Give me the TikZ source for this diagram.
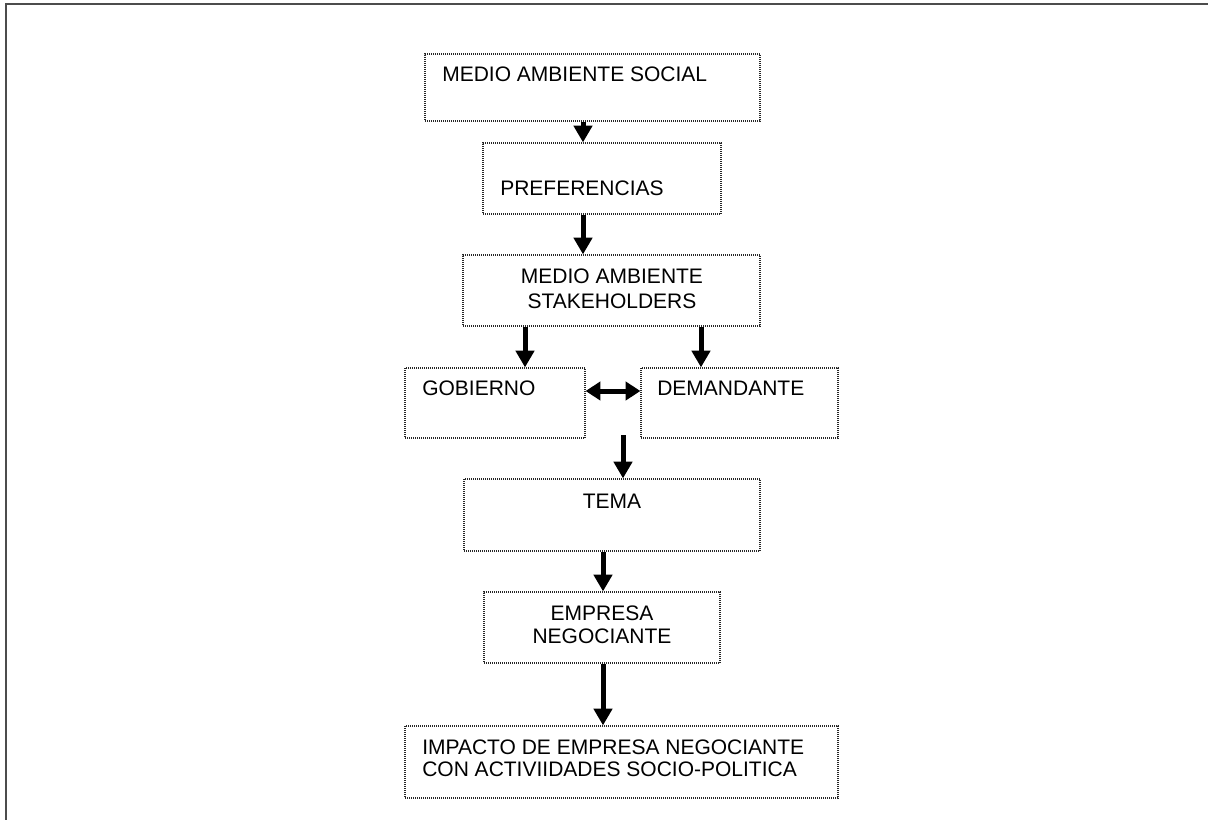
\documentclass[tikz,border=0pt]{standalone}
\usepackage{fontspec}
\setmainfont{Liberation Sans}
\usetikzlibrary{arrows.meta,fit}
\begin{document}
\begin{tikzpicture}[x=0.75pt,y=-0.75pt,
  box/.style={draw=black!85, line width=0.9pt, dash pattern=on 0.75pt off 0.75pt, inner sep=0pt, rectangle},
  txt/.style={inner sep=0pt, font=\fontsize{15.75}{18.75}\selectfont, text=black},
  arr/.style={line width=3.75pt, -{Triangle[width=13.5pt,length=12.5pt]}},
  dbl/.style={line width=3.75pt, {Triangle[width=13.5pt,length=11pt]}-{Triangle[width=13.5pt,length=11pt]}}]
\useasboundingbox (0,0) rectangle (1208,820);
\draw[line width=1.5pt, draw=black!70] (6,820) -- (6,4) -- (1208,4);
% boxes
\node[box, fit={(425,54) (760,121)}] (b1) {};
\node[box, fit={(483,143) (721,214)}] (b2) {};
\node[box, fit={(463,255) (760,326)}] (b3) {};
\node[box, fit={(405,368) (585,438)}] (gob) {};
\node[box, fit={(641,368) (838,438)}] (dem) {};
\node[box, fit={(464,479) (760,551)}] (tema) {};
\node[box, fit={(484,592) (720,663)}] (emp) {};
\node[box, fit={(405,726) (838,798)}] (imp) {};
% texts
\node[txt, anchor=west] (t1) at (442,74) {MEDIO AMBIENTE SOCIAL};
\node[txt, anchor=west] (t2) at (500,188) {PREFERENCIAS};
\node[txt, align=center] (t3) at (612,288.5) {MEDIO AMBIENTE\\STAKEHOLDERS};
\node[txt, anchor=west] (t4) at (422,388) {GOBIERNO};
\node[txt, anchor=west] (t5) at (657,388) {DEMANDANTE};
\node[txt] (t6) at (612,501) {TEMA};
\node[txt, align=center, font=\fontsize{15.75}{17.25}\selectfont] (t7) at (602,624.5) {EMPRESA\\NEGOCIANTE};
\node[txt, anchor=west, align=left, font=\fontsize{15.75}{16.5}\selectfont] (t8) at (422,758.5) {IMPACTO DE EMPRESA NEGOCIANTE\\CON ACTIVIIDADES SOCIO-POLITICA};
% arrow x positions
\coordinate (xa) at (583,0);
\coordinate (xb) at (525,0);
\coordinate (xc) at (701,0);
\coordinate (xd) at (623,0);
\coordinate (xe) at (603,0);
\coordinate (s6) at (623,435);
\coordinate (ya) at (0,391);
\draw[arr] (b1.south -| xa) -- (b2.north -| xa);
\draw[arr] (b2.south -| xa) -- (b3.north -| xa);
\draw[arr] (b3.south -| xb) -- (gob.north -| xb);
\draw[arr] (b3.south -| xc) -- (dem.north -| xc);
\draw[dbl] (gob.east |- ya) -- (dem.west |- ya);
\draw[arr] (s6) -- (tema.north -| xd);
\draw[arr] (tema.south -| xe) -- (emp.north -| xe);
\draw[arr] (emp.south -| xe) -- (imp.north -| xe);
\end{tikzpicture}
\end{document}
